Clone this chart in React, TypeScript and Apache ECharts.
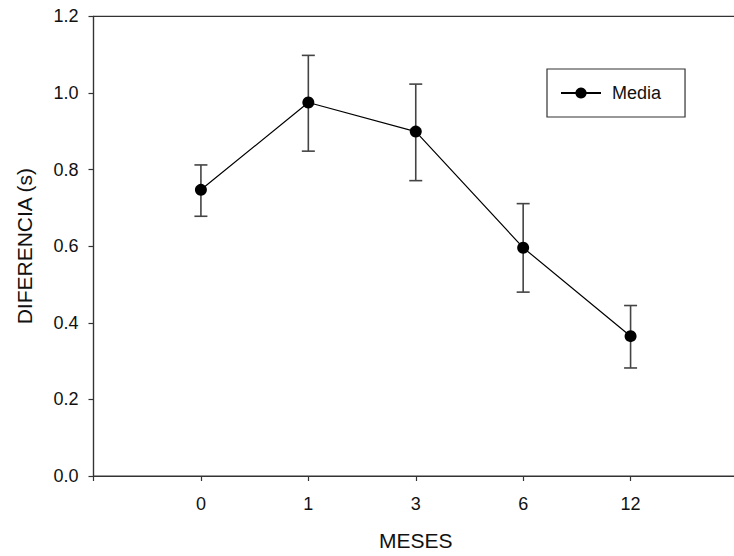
import React, { useEffect, useRef } from "react";
import * as echarts from "echarts";

const monthLabels = ["0", "1", "3", "6", "12"];
const meanValues = [0.747, 0.975, 0.899, 0.596, 0.365];
const upperValues = [0.812, 1.098, 1.023, 0.711, 0.445];
const lowerValues = [0.678, 0.848, 0.771, 0.48, 0.282];
const yTicks = ["0.0", "0.2", "0.4", "0.6", "0.8", "1.0", "1.2"];

const FONT = "'Liberation Sans', Arial, sans-serif";

export default function App() {
  const ref = useRef<HTMLDivElement>(null);
  useEffect(() => {
    if (!ref.current) return;
    const chart = echarts.init(ref.current, undefined, { renderer: "svg" });
    const lineData = meanValues.map((v, i) => [i, v]);
    const errData = meanValues.map((_, i) => [i, lowerValues[i], upperValues[i]]);
    chart.setOption({
      animation: false,
      backgroundColor: "#fff",
      textStyle: { fontFamily: FONT },
      grid: {
        left: 93.5,
        top: 16.3,
        bottom: 71,
        right: 0,
        show: true,
        borderColor: "#333",
        borderWidth: 1.2,
        containLabel: false,
      },
      legend: {
        left: 547,
        top: 69,
        data: ["Media"],
        borderColor: "#333",
        borderWidth: 1.2,
        padding: [15, 24, 15, 13],
        itemWidth: 40,
        itemHeight: 14,
        textStyle: { fontSize: 18, color: "#111", fontFamily: FONT, padding: [0, 0, 0, 6] },
      },
      xAxis: {
        type: "value",
        min: -1,
        max: 5,
        interval: 1,
        name: "MESES",
        nameLocation: "middle",
        nameGap: 54,
        nameTextStyle: { fontSize: 21, color: "#111", fontFamily: FONT },
        splitLine: { show: false },
        axisLine: { show: true, onZero: false, lineStyle: { color: "#333", width: 1.2 } },
        axisTick: { show: true, inside: false, length: 5, lineStyle: { color: "#333", width: 1.2 } },
        axisLabel: {
          fontSize: 18,
          color: "#111",
          margin: 19,
          fontFamily: FONT,
          formatter: (v: number) => (v >= 0 && v < monthLabels.length ? monthLabels[v] : ""),
        },
      },
      yAxis: {
        type: "value",
        min: 0,
        max: 1.2,
        interval: 0.2,
        name: "DIFERENCIA (s)",
        nameLocation: "middle",
        nameGap: 59,
        nameTextStyle: { fontSize: 21, color: "#111", fontFamily: FONT },
        splitLine: { show: false },
        axisLine: { show: true, onZero: false, lineStyle: { color: "#333", width: 1.2 } },
        axisTick: { show: true, inside: false, length: 5, lineStyle: { color: "#333", width: 1.2 } },
        axisLabel: {
          fontSize: 18,
          color: "#111",
          margin: 15,
          fontFamily: FONT,
          formatter: (v: number) => yTicks[Math.round(v / 0.2)] ?? "",
        },
      },
      series: [
        {
          type: "custom",
          name: "err",
          z: 1,
          data: errData,
          renderItem: (params: any, api: any) => {
            const x = api.value(0);
            const lo = api.coord([x, api.value(1)]);
            const hi = api.coord([x, api.value(2)]);
            const hw = 6.5;
            const style = { stroke: "#444", lineWidth: 1.6, fill: "none" };
            return {
              type: "group",
              children: [
                { type: "line", shape: { x1: lo[0], y1: lo[1], x2: hi[0], y2: hi[1] }, style },
                { type: "line", shape: { x1: hi[0] - hw, y1: hi[1], x2: hi[0] + hw, y2: hi[1] }, style },
                { type: "line", shape: { x1: lo[0] - hw, y1: lo[1], x2: lo[0] + hw, y2: lo[1] }, style },
              ],
            };
          },
        },
        {
          type: "line",
          name: "Media",
          z: 3,
          data: lineData,
          symbol: "circle",
          symbolSize: 12,
          showSymbol: true,
          lineStyle: { color: "#000", width: 1.2 },
          itemStyle: { color: "#000", borderWidth: 0 },
        },
      ],
    });
    return () => chart.dispose();
  }, []);
  return (
    <div
      style={{
        position: "fixed",
        left: 0,
        top: 0,
        width: 734,
        height: 556,
        overflow: "hidden",
        background: "#fff",
      }}
    >
      <div ref={ref} style={{ width: 741, height: 556 }} />
    </div>
  );
}
